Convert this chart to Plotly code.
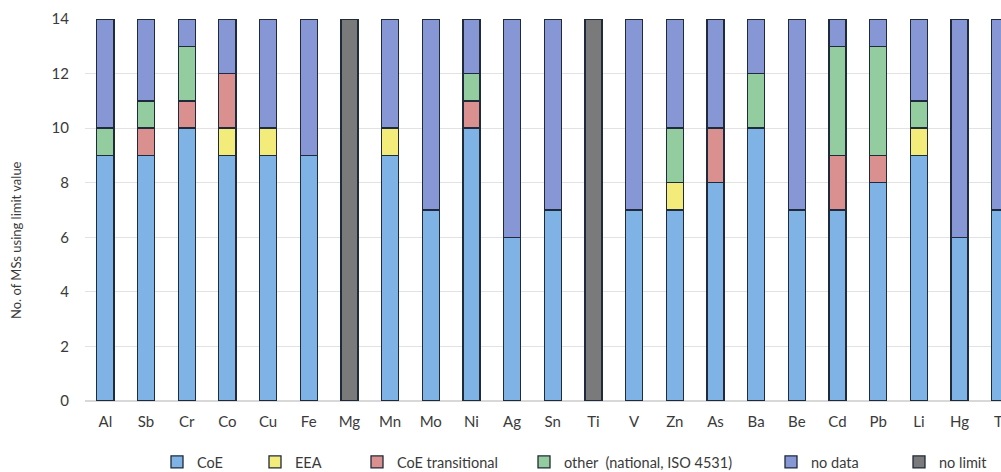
import plotly.graph_objects as go

elements = ["Al", "Sb", "Cr", "Co", "Cu", "Fe", "Mg", "Mn", "Mo", "Ni", "Ag", "Sn",
            "Ti", "V", "Zn", "As", "Ba", "Be", "Cd", "Pb", "Li", "Hg", "Tl"]

coe        = [9, 9, 10, 9, 9, 9, 0, 9, 7, 10, 6, 7, 0, 7, 7, 8, 10, 7, 7, 8, 9, 6, 7]
eea        = [0, 0, 0, 1, 1, 0, 0, 1, 0, 0, 0, 0, 0, 0, 1, 0, 0, 0, 0, 0, 1, 0, 0]
coe_trans  = [0, 1, 1, 2, 0, 0, 0, 0, 0, 1, 0, 0, 0, 0, 0, 2, 0, 0, 2, 1, 0, 0, 0]
other      = [1, 1, 2, 0, 0, 0, 0, 0, 0, 1, 0, 0, 0, 0, 2, 0, 2, 0, 4, 4, 1, 0, 0]
no_data    = [4, 3, 1, 2, 4, 5, 0, 4, 7, 2, 8, 7, 0, 7, 4, 4, 2, 7, 1, 1, 3, 8, 7]
no_limit   = [0, 0, 0, 0, 0, 0, 14, 0, 0, 0, 0, 0, 14, 0, 0, 0, 0, 0, 0, 0, 0, 0, 0]

series = [
    ("CoE", coe, "#7fb2e5"),
    ("EEA", eea, "#f4ec7a"),
    ("CoE transitional", coe_trans, "#d9908f"),
    ("other  (national, ISO 4531)", other, "#93cc9f"),
    ("no data", no_data, "#8797d6"),
    ("no limit", no_limit, "#7a7a7a"),
]

FONT = "Lato, 'Open Sans', sans-serif"
TXT = "#3a3a3a"
W, H = 1001, 472
ML, MR, MT, MB = 85, 0, 19, 71
PW = W - ML - MR
PH = H - MT - MB

# legend symbol centers in pixels (approx.)
legend_px = [177, 275, 377, 544, 791, 919]
legend_names = ["legend", "legend2", "legend3", "legend4", "legend5", "legend6"]

fig = go.Figure()
for i, (name, vals, col) in enumerate(series):
    fig.add_trace(go.Bar(
        x=elements, y=[v if v else None for v in vals], name=name,
        marker=dict(color=col, line=dict(color="#1f2a3a", width=1.3)),
        legend=legend_names[i], showlegend=True,
    ))

layout_legends = {}
for i, ln in enumerate(legend_names):
    layout_legends[ln] = dict(
        xref="container", yref="container",
        x=(legend_px[i] - 20) / W, xanchor="left",
        y=(H - 462) / H, yanchor="middle",
        orientation="h",
        font=dict(family=FONT, size=14.5, color=TXT),
        bgcolor="rgba(0,0,0,0)",
        itemwidth=30,
    )

fig.update_layout(
    width=W, height=H,
    margin=dict(l=ML, r=MR, t=MT, b=MB),
    barmode="stack",
    bargap=0.58,
    showlegend=True,
    plot_bgcolor="white", paper_bgcolor="white",
    font=dict(family=FONT, size=15, color=TXT),
    xaxis=dict(range=[-0.5, 22.02], showgrid=False, showline=False, ticks="",
               automargin=False, ticklabelstandoff=10,
               tickfont=dict(family=FONT, size=15, color=TXT)),
    yaxis=dict(range=[0, 14], dtick=2, showgrid=True, gridcolor="#e2e2e2",
               gridwidth=1, zeroline=True, zerolinecolor="#d8d8d8",
               ticks="", automargin=False, ticklabelstandoff=15,
               tickfont=dict(family=FONT, size=15, color=TXT)),
    annotations=[dict(
        text="No. of MSs using limit value", textangle=-90,
        xref="paper", yref="paper",
        x=(16 - ML) / PW, y=(401 - 240) / PH,
        xanchor="center", yanchor="middle", showarrow=False,
        font=dict(family=FONT, size=13, color=TXT),
    )],
    **layout_legends,
)

fig.write_html("out.html",
               config={"displayModeBar": False},
               post_script="document.body.style.margin='0';document.body.style.overflow='hidden';")
